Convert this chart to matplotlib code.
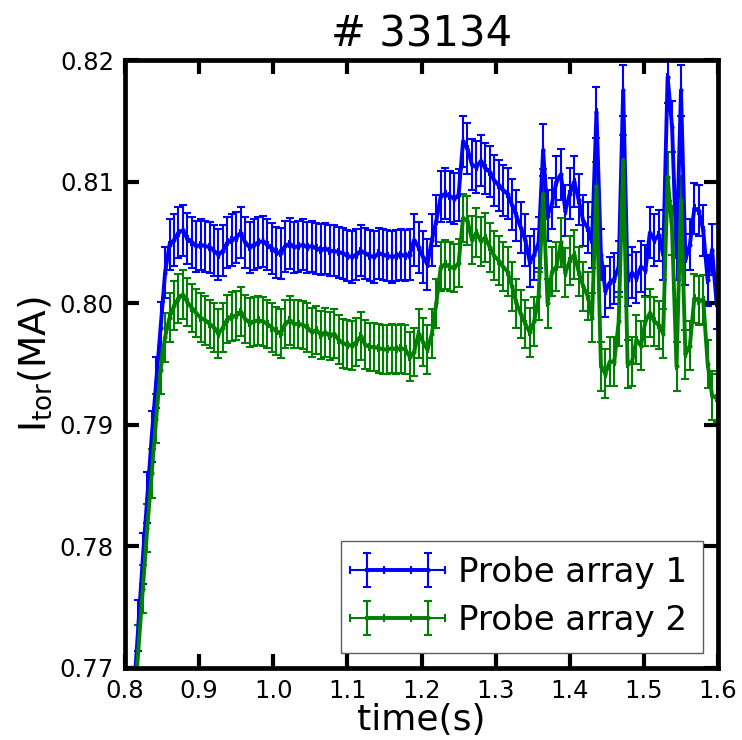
import matplotlib
matplotlib.use("Agg")
import matplotlib.pyplot as plt

# shot number and axis texts
shot = "# 33134"
x_label = "time(s)"
y_label = r"$\mathregular{I_{tor}(MA)}$"
labels = ["Probe array 1", "Probe array 2"]

# sample times (s)
time = [
    0.806, 0.812, 0.818, 0.824, 0.830, 0.836, 0.842, 0.848, 0.854, 0.860,
    0.866, 0.872, 0.878, 0.884, 0.890, 0.896, 0.902, 0.908, 0.914, 0.920,
    0.926, 0.932, 0.938, 0.944, 0.950, 0.956, 0.962, 0.968, 0.974, 0.980,
    0.986, 0.992, 0.998, 1.004, 1.010, 1.016, 1.022, 1.028, 1.034, 1.040,
    1.046, 1.052, 1.058, 1.064, 1.070, 1.076, 1.082, 1.088, 1.094, 1.100,
    1.106, 1.112, 1.118, 1.124, 1.130, 1.136, 1.142, 1.148, 1.154, 1.160,
    1.166, 1.172, 1.178, 1.184, 1.190, 1.196, 1.202, 1.208, 1.214, 1.220,
    1.226, 1.232, 1.238, 1.244, 1.250, 1.256, 1.262, 1.268, 1.274, 1.280,
    1.286, 1.292, 1.298, 1.304, 1.310, 1.316, 1.322, 1.328, 1.334, 1.340,
    1.346, 1.352, 1.358, 1.364, 1.370, 1.376, 1.382, 1.388, 1.394, 1.400,
    1.406, 1.412, 1.418, 1.424, 1.430, 1.436, 1.442, 1.448, 1.454, 1.460,
    1.466, 1.472, 1.478, 1.484, 1.490, 1.496, 1.502, 1.508, 1.514, 1.520,
    1.526, 1.532, 1.538, 1.544, 1.550, 1.556, 1.562, 1.568, 1.574, 1.580,
    1.586, 1.592, 1.598,
]

# toroidal current (MA), probe array 1
probe1 = [
    0.7625, 0.7680, 0.7735, 0.7790, 0.7840, 0.7890, 0.7935, 0.7980, 0.8025, 0.8048,
    0.8052, 0.8058, 0.8060, 0.8053, 0.8050, 0.8047, 0.8048, 0.8047, 0.8046, 0.8043,
    0.8040, 0.8043, 0.8050, 0.8052, 0.8054, 0.8058, 0.8050, 0.8046, 0.8048, 0.8050,
    0.8051, 0.8048, 0.8045, 0.8042, 0.8041, 0.8047, 0.8049, 0.8046, 0.8047, 0.8048,
    0.8046, 0.8047, 0.8045, 0.8044, 0.8045, 0.8043, 0.8043, 0.8042, 0.8041, 0.8039,
    0.8038, 0.8040, 0.8043, 0.8041, 0.8039, 0.8038, 0.8041, 0.8040, 0.8039, 0.8038,
    0.8039, 0.8040, 0.8039, 0.8040, 0.8052, 0.8046, 0.8038, 0.8032, 0.8052, 0.8068,
    0.8088, 0.8090, 0.8088, 0.8086, 0.8089, 0.8133, 0.8127, 0.8114, 0.8112, 0.8117,
    0.8111, 0.8108, 0.8101, 0.8097, 0.8093, 0.8090, 0.8081, 0.8072, 0.8062, 0.8052,
    0.8034, 0.8040, 0.8050, 0.8126, 0.8072, 0.8082, 0.8100, 0.8106, 0.8076, 0.8090,
    0.8100, 0.8085, 0.8068, 0.8062, 0.8050, 0.8157, 0.8040, 0.8010, 0.8017, 0.8020,
    0.8030, 0.8175, 0.8019, 0.8025, 0.8021, 0.8030, 0.8027, 0.8058, 0.8052, 0.8056,
    0.8040, 0.8186, 0.8145, 0.8040, 0.8175, 0.8036, 0.8048, 0.8078, 0.8076, 0.8060,
    0.8019, 0.8044, 0.8000,
]

# toroidal current (MA), probe array 2
probe2 = [
    0.7620, 0.7665, 0.7715, 0.7765, 0.7815, 0.7860, 0.7905, 0.7945, 0.7972, 0.7988,
    0.7998, 0.8004, 0.8007, 0.8001, 0.7996, 0.7992, 0.7988, 0.7986, 0.7983, 0.7980,
    0.7975, 0.7980, 0.7987, 0.7989, 0.7990, 0.7993, 0.7987, 0.7984, 0.7985, 0.7986,
    0.7985, 0.7983, 0.7980, 0.7977, 0.7975, 0.7983, 0.7986, 0.7983, 0.7983, 0.7982,
    0.7980, 0.7976, 0.7978, 0.7974, 0.7976, 0.7973, 0.7975, 0.7970, 0.7967, 0.7966,
    0.7965, 0.7968, 0.7973, 0.7966, 0.7964, 0.7964, 0.7963, 0.7962, 0.7962, 0.7963,
    0.7962, 0.7963, 0.7962, 0.7956, 0.7960, 0.7975, 0.7968, 0.7962, 0.7975, 0.8000,
    0.8030, 0.8032, 0.8030, 0.8029, 0.8033, 0.8070, 0.8068, 0.8052, 0.8058, 0.8051,
    0.8054, 0.8046, 0.8039, 0.8035, 0.8030, 0.8026, 0.8014, 0.8000, 0.7991, 0.7983,
    0.7976, 0.7985, 0.8006, 0.8090, 0.8000, 0.8026, 0.8030, 0.8050, 0.8025, 0.8035,
    0.8040, 0.8026, 0.8014, 0.8006, 0.7988, 0.8096, 0.7948, 0.7942, 0.7952, 0.7952,
    0.7985, 0.8118, 0.7950, 0.7952, 0.7970, 0.7965, 0.7985, 0.7992, 0.7985, 0.7982,
    0.7975, 0.8104, 0.8060, 0.7948, 0.8085, 0.7958, 0.7965, 0.8004, 0.8002, 0.8003,
    0.7950, 0.7924, 0.7922,
]

# uncertainties
probe1_err = 0.0021
probe2_err = 0.0020
time_err = 0.0004

plt.rcParams["font.family"] = "DejaVu Sans"

fig = plt.figure(figsize=(7.42, 7.40), dpi=100)
ax = fig.add_axes([0.1685, 0.0973, 0.7992, 0.8216])

ax.errorbar(time, probe1, yerr=probe1_err, xerr=time_err, color="blue",
            lw=2.8, marker=".", ms=4, elinewidth=1.5, capsize=3, capthick=1.5,
            label=labels[0])
ax.errorbar(time, probe2, yerr=probe2_err, xerr=time_err, color="green",
            lw=2.8, marker=".", ms=4, elinewidth=1.5, capsize=3, capthick=1.5,
            label=labels[1])

ax.set_xlim(0.8, 1.6)
ax.set_ylim(0.77, 0.82)
ax.set_xticks([0.8, 0.9, 1.0, 1.1, 1.2, 1.3, 1.4, 1.5, 1.6])
ax.set_yticks([0.77, 0.78, 0.79, 0.80, 0.81, 0.82])
ax.set_xticklabels(["0.8", "0.9", "1.0", "1.1", "1.2", "1.3", "1.4", "1.5", "1.6"])
ax.set_yticklabels(["0.77", "0.78", "0.79", "0.80", "0.81", "0.82"])

for s in ax.spines.values():
    s.set_linewidth(3.4)
ax.tick_params(direction="in", length=10, width=3, top=True, right=True,
               labelsize=17.5, pad=8)

ax.set_title(shot, fontsize=30, pad=10)
ax.set_xlabel(x_label, fontsize=26, labelpad=0)
ax.set_ylabel(y_label, fontsize=27, labelpad=4)

leg = ax.legend(loc="lower right", fontsize=24.5, fancybox=False, numpoints=2,
                handlelength=2.4, handletextpad=0.6, borderpad=0.45,
                labelspacing=0.45, borderaxespad=0.45)
leg.get_frame().set_edgecolor("0.2")
leg.get_frame().set_linewidth(1)

fig.savefig("out.png", dpi=100)
